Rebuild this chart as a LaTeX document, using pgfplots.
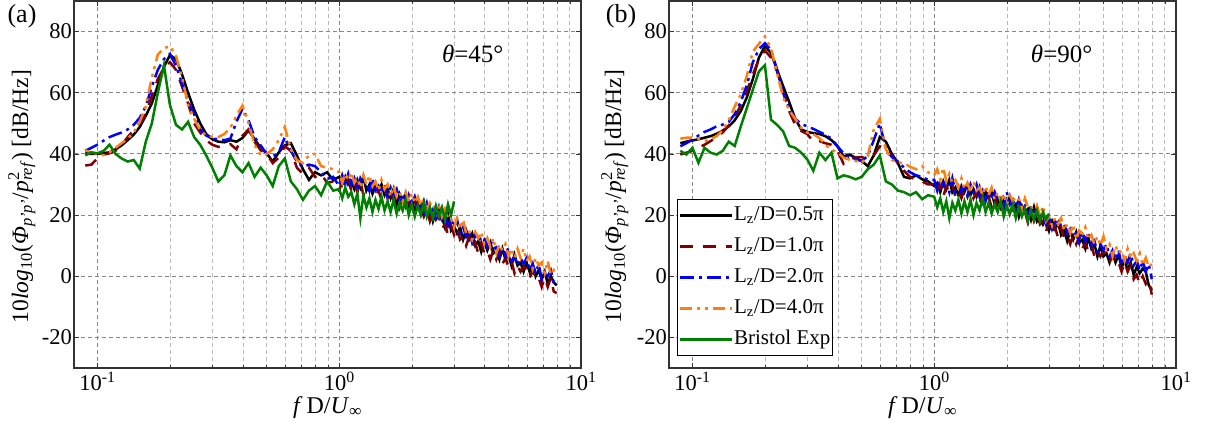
\documentclass[border=0pt]{standalone}
\usepackage{pgfplots}
\pgfplotsset{compat=1.18}
\usepackage{pgfplotstable}
\usepackage{fontspec}
\setmainfont{Liberation Serif}
\definecolor{cmaroon}{RGB}{128,0,0}
\definecolor{cblue}{RGB}{0,0,255}
\definecolor{corange}{RGB}{255,127,14}
\definecolor{cgreen}{RGB}{0,128,0}
\definecolor{cgridmaj}{RGB}{135,135,135}
\definecolor{cgridmin}{RGB}{185,185,185}
\newcommand{\fs}{\fontsize{21}{25}\selectfont}
\newcommand{\ft}{\fontsize{22.5}{26}\selectfont}
\newcommand{\fl}{\fontsize{23.5}{27}\selectfont}
\newcommand{\supsub}[2]{\rlap{\textsuperscript{#1}}\textsubscript{#2}}

\pgfplotstableread{
x k m b o g
0.0891 40.2 36.2 41.0 41.2 39.5
0.0944 40.0 36.5 42.0 40.5 40.5
0.1000 40.0 38.5 43.0 40.0 40.2
0.1059 40.3 39.8 44.3 39.6 41.0
0.1122 40.5 40.2 45.5 40.5 43.0
0.1189 41.5 41.0 46.3 42.0 40.0
0.1259 42.8 43.0 47.0 43.5 38.5
0.1334 44.5 45.5 48.0 45.0 37.5
0.1413 46.3 47.8 49.5 47.0 38.0
0.1496 48.8 50.0 51.8 50.5 35.2
0.1585 52.5 53.0 55.5 55.5 44.0
0.1679 56.5 59.0 62.0 65.0 50.0
0.1778 62.5 64.5 67.5 72.5 60.0
0.1884 68.5 68.2 71.0 74.5 69.0
0.1995 72.3 70.0 72.7 75.3 56.0
0.2113 71.0 67.5 68.8 72.0 49.5
0.2239 66.0 62.0 63.0 65.0 48.0
0.2371 60.0 56.5 57.0 56.0 50.5
0.2512 54.5 50.0 53.0 51.5 45.5
0.2661 50.0 47.0 48.0 47.7 43.0
0.2818 46.5 44.5 46.0 46.0 39.5
0.2985 44.8 43.0 45.0 45.6 35.5
0.3162 44.0 42.3 44.8 45.5 31.0
0.3350 43.8 42.7 44.5 46.5 33.0
0.3548 44.5 43.2 45.0 48.5 39.5
0.3758 44.0 41.5 50.5 52.5 36.0
0.3981 45.2 46.0 54.8 55.8 34.0
0.4217 47.7 48.0 51.0 50.0 37.0
0.4467 44.8 44.0 45.5 43.0 32.5
0.4732 42.0 41.2 42.8 39.5 35.5
0.5012 40.2 40.0 40.0 40.0 33.0
0.5309 37.5 37.0 39.2 41.5 29.5
0.5623 40.5 38.8 40.5 44.5 36.0
0.5957 42.8 42.5 45.5 48.8 38.5
0.6310 43.5 41.0 41.0 41.5 31.0
0.6683 39.5 35.5 37.5 38.0 28.5
0.7079 35.0 33.5 35.7 37.0 25.0
0.7499 31.5 35.5 36.5 39.6 28.0
0.7943 34.0 32.5 36.0 40.0 29.5
0.8414 33.0 33.5 34.0 36.0 26.5
0.8913 34.0 30.5 31.8 35.5 31.0
0.9441 31.5 31.0 32.5 35.0 28.0
1.0000 32.5 28.0 29.5 34.0 28.5
1.0292 30.0 31.0 33.0 30.5 25.5
1.0593 32.5 29.0 30.0 33.5 29.0
1.0902 30.0 31.5 33.5 31.5 26.0
1.1220 31.0 28.0 30.0 34.0 27.5
1.1548 28.5 30.5 32.0 30.5 23.5
1.1885 31.5 27.5 28.0 32.0 27.0
1.2232 29.0 31.0 32.0 29.0 19.0
1.2589 32.5 26.5 30.0 33.0 26.5
1.2957 28.0 29.5 31.0 30.0 22.5
1.3335 30.0 28.0 28.0 33.0 25.5
1.3725 27.0 30.0 32.0 29.5 21.0
1.4125 30.0 26.5 28.0 31.0 25.0
1.4538 28.0 28.0 29.5 28.0 22.0
1.4962 30.0 25.0 27.0 31.5 26.0
1.5399 26.5 28.5 30.0 28.5 21.5
1.5849 28.5 25.5 26.0 30.0 24.5
1.6312 25.5 28.5 29.0 26.0 21.0
1.6788 28.5 24.5 26.5 29.5 25.0
1.7278 23.5 26.0 28.5 26.0 20.5
1.7783 27.0 22.5 25.0 27.5 24.0
1.8302 25.0 26.0 26.5 24.5 21.5
1.8836 27.0 23.5 23.0 27.5 25.0
1.9387 23.0 24.5 26.5 24.5 20.0
1.9953 24.5 21.0 23.5 27.0 23.5
2.0535 21.5 25.0 26.0 24.0 19.5
2.1135 24.5 20.5 22.5 26.0 23.0
2.1752 21.5 22.0 23.5 23.0 20.0
2.2387 24.5 19.5 20.5 25.5 24.0
2.3041 20.5 22.0 24.0 21.5 19.5
2.3714 22.0 18.0 20.5 24.0 22.5
2.4406 18.0 21.0 22.0 22.0 19.0
2.5119 21.5 18.5 18.5 23.5 23.0
2.5852 19.0 20.0 22.5 23.0 19.5
2.6607 19.5 15.5 18.5 19.5 22.5
2.7384 16.0 17.0 19.5 22.0 18.5
2.8184 20.0 13.5 16.5 19.0 23.5
2.9007 15.0 16.5 19.0 19.0 20.0
2.9854 16.5 13.5 16.0 16.0 24.5
3.0726 14.0 16.0 18.5 19.0 nan
3.1623 16.0 12.0 14.0 15.5 nan
3.2546 12.0 13.0 16.0 18.5 nan
3.3497 15.0 10.0 13.0 14.0 nan
3.4475 12.0 13.0 15.0 15.0 nan
3.5481 14.0 9.5 11.0 12.0 nan
3.6517 10.0 11.0 13.5 14.5 nan
3.7584 11.5 7.5 11.5 12.5 nan
3.8681 8.0 11.0 13.0 14.5 nan
3.9811 11.5 7.5 12.5 10.5 nan
4.0973 8.5 8.5 9.5 12.5 nan
4.2170 11.0 5.5 12.0 9.5 nan
4.3401 7.5 8.5 9.0 12.5 nan
4.4668 8.5 5.5 9.5 7.5 nan
4.5973 5.5 8.0 6.5 10.5 nan
4.7315 9.0 4.0 9.5 8.5 nan
4.8697 5.5 6.0 6.5 10.5 nan
5.0119 7.0 3.0 9.5 6.5 nan
5.1582 3.5 5.0 5.0 9.0 nan
5.3088 7.0 1.0 6.5 6.0 nan
5.4639 3.5 3.5 3.5 9.0 nan
5.6234 4.5 1.5 6.0 6.0 nan
5.7876 1.5 3.0 4.0 9.0 nan
5.9566 4.5 2.5 6.0 5.0 nan
6.1306 1.5 -0.5 2.0 6.5 nan
6.3096 4.0 2.0 4.0 2.5 nan
6.4938 0.0 -1.0 1.0 6.0 nan
6.6834 2.0 -0.5 4.0 3.5 nan
6.8786 -1.0 -3.5 -1.0 4.5 nan
7.0795 1.5 -0.5 2.0 1.0 nan
7.2862 -2.5 -3.5 0.0 5.0 nan
7.4989 0.0 -0.5 2.0 0.5 nan
7.7179 -2.0 -5.0 -2.0 2.0 nan
7.9433 -3.0 -5.5 -1.5 0.5 nan
}\tabA

\pgfplotstableread{
x k m b o g
0.0891 43.5 39.8 42.5 45.0 41.0
0.0944 44.0 40.4 43.5 45.3 39.8
0.1000 44.4 41.0 44.7 45.3 42.0
0.1059 44.8 42.0 46.0 44.8 37.1
0.1122 45.3 43.0 47.2 44.2 42.0
0.1189 45.8 44.2 48.0 44.8 40.4
0.1259 46.6 45.5 49.0 45.8 39.8
0.1334 47.6 47.0 49.6 47.8 41.0
0.1413 49.0 49.3 50.5 51.0 44.0
0.1496 51.0 52.0 53.0 55.5 42.6
0.1585 54.0 56.0 57.0 59.5 49.0
0.1679 58.5 60.5 62.5 65.5 55.0
0.1778 64.5 66.0 70.0 73.5 61.0
0.1884 71.5 71.0 74.3 76.0 67.0
0.1995 75.3 73.8 76.2 78.4 69.0
0.2113 73.0 71.5 74.0 74.5 51.2
0.2239 67.5 67.0 67.5 66.5 49.5
0.2371 62.2 60.5 60.0 58.5 47.4
0.2512 57.0 54.0 55.0 54.3 42.6
0.2661 51.5 49.5 51.5 51.5 42.0
0.2818 48.0 47.5 49.8 48.5 40.4
0.2985 47.2 46.5 49.0 47.0 38.2
0.3162 46.8 44.0 48.2 46.5 34.5
0.3350 46.5 44.2 47.2 45.2 40.4
0.3548 45.8 43.5 46.3 43.0 38.0
0.3758 44.5 43.0 45.0 41.3 40.4
0.3981 42.5 41.0 42.5 40.6 32.0
0.4217 39.2 36.8 40.2 38.8 33.0
0.4467 39.8 38.5 39.0 38.1 32.5
0.4732 38.7 38.8 38.2 37.7 31.7
0.5012 37.7 39.0 37.7 37.1 32.5
0.5309 36.0 38.2 39.3 39.3 35.0
0.5623 39.5 39.5 44.5 48.0 36.5
0.5957 45.5 42.5 50.0 51.5 39.5
0.6310 44.0 41.8 41.5 41.5 31.0
0.6683 40.0 39.5 39.0 38.0 30.0
0.7079 37.0 37.0 37.5 37.2 28.0
0.7499 32.5 34.5 35.5 37.0 27.5
0.7943 32.0 32.5 34.0 35.8 26.5
0.8414 33.0 31.5 33.0 35.0 27.5
0.8913 31.7 31.0 32.5 36.0 25.2
0.9441 31.0 30.0 31.5 34.0 26.5
1.0000 29.5 30.0 31.5 33.0 26.0
1.0292 30.5 27.5 28.0 35.0 22.5
1.0593 27.5 30.5 31.5 31.5 25.5
1.0902 31.0 26.0 29.5 35.5 21.0
1.1220 28.5 29.5 31.0 31.0 24.5
1.1548 31.5 27.5 27.5 33.5 19.0
1.1885 27.5 30.0 32.0 30.5 24.0
1.2232 29.0 26.0 27.5 31.5 21.5
1.2589 26.5 28.0 29.5 29.0 25.0
1.2957 29.5 25.5 27.5 32.0 20.5
1.3335 27.5 28.5 30.0 28.5 24.5
1.3725 30.0 26.0 26.5 30.5 21.0
1.4125 26.5 29.5 30.0 27.5 25.0
1.4538 28.5 25.5 27.5 31.0 20.0
1.4962 26.0 27.5 30.0 28.0 24.0
1.5399 29.0 23.5 26.0 29.0 21.5
1.5849 24.5 27.5 28.0 26.5 25.5
1.6312 27.5 25.0 24.5 29.5 21.0
1.6788 25.5 26.0 28.0 26.5 24.0
1.7278 27.5 22.5 25.0 29.0 20.5
1.7783 23.5 26.5 27.5 25.0 23.5
1.8302 25.5 22.5 24.5 27.5 21.0
1.8836 22.5 24.0 25.5 24.5 24.5
1.9387 25.5 21.5 22.5 27.0 19.5
1.9953 23.0 24.5 27.5 23.5 23.0
2.0535 26.0 20.5 23.5 26.5 20.5
2.1135 22.0 23.5 25.0 24.5 23.5
2.1752 23.5 21.0 21.5 26.0 19.0
2.2387 19.5 23.0 25.0 25.5 22.5
2.3041 23.0 19.0 21.5 22.5 19.5
2.3714 21.0 21.0 23.0 25.5 22.0
2.4406 22.0 17.5 20.0 22.5 18.0
2.5119 18.5 21.0 23.0 23.0 21.5
2.5852 22.5 18.0 20.0 20.0 18.5
2.6607 18.0 20.5 22.5 23.0 21.5
2.7384 19.5 17.0 18.5 20.0 18.0
2.8184 17.0 18.0 20.5 23.0 21.0
2.9007 19.0 14.5 17.0 18.0 18.5
2.9854 15.0 18.0 19.5 19.5 20.5
3.0726 18.0 14.5 15.5 16.5 nan
3.1623 15.5 16.0 18.0 19.0 nan
3.2546 17.5 12.5 16.0 17.0 nan
3.3497 13.5 16.0 17.5 19.0 nan
3.4475 15.0 12.5 17.0 15.0 nan
3.5481 11.5 13.5 14.0 17.0 nan
3.6517 15.0 10.5 16.5 14.0 nan
3.7584 12.0 13.5 13.5 17.0 nan
3.8681 14.5 10.5 14.0 12.0 nan
3.9811 11.0 13.0 11.0 15.0 nan
4.0973 12.0 9.0 14.5 14.0 nan
4.2170 9.0 11.0 11.5 16.0 nan
4.3401 12.5 8.0 14.5 12.0 nan
4.4668 9.0 10.5 10.0 13.5 nan
4.5973 10.5 6.5 11.5 10.5 nan
4.7315 6.5 8.5 8.0 13.0 nan
4.8697 10.0 6.5 10.5 10.0 nan
5.0119 6.5 8.0 8.5 13.0 nan
5.1582 7.5 7.5 10.5 9.0 nan
5.3088 4.5 4.5 6.5 10.5 nan
5.4639 7.5 7.0 8.5 6.5 nan
5.6234 4.5 4.0 5.5 10.0 nan
5.7876 7.0 4.5 8.5 7.5 nan
5.9566 3.0 1.5 3.5 8.5 nan
6.1306 5.0 4.5 6.5 5.0 nan
6.3096 2.0 1.5 4.5 9.0 nan
6.4938 4.5 3.5 7.5 6.0 nan
6.6834 0.5 -1.0 3.5 7.5 nan
6.8786 3.0 0.5 5.0 5.0 nan
7.0795 1.0 -2.5 2.0 7.5 nan
7.2862 2.5 0.0 5.0 3.5 nan
7.4989 1.5 -2.5 1.5 6.0 nan
7.7179 -3.0 -1.0 4.0 3.0 nan
7.9433 -4.5 -6.0 -1.0 4.0 nan
}\tabB

\begin{document}
\begin{tikzpicture}
\path[use as bounding box] (0,0) rectangle (1206pt,439pt);
\begin{axis}[
    at={(74pt,71pt)}, anchor=south west,
    scale only axis, width=507pt, height=367pt,
    xmode=log, xmin=0.08, xmax=10, ymin=-30, ymax=90,
    xtick={0.1,1,10},
    xticklabels={10\textsuperscript{-1},10\textsuperscript{0},10\textsuperscript{1}},
    minor xtick={0.2,0.3,0.4,0.5,0.6,0.7,0.8,0.9,2,3,4,5,6,7,8,9},
    ytick={-20,0,20,40,60,80},
    yticklabels={-20,0,20,40,60,80},
    grid=both,
    major grid style={color=cgridmaj, line width=0.9pt, dash pattern=on 4pt off 3pt},
    minor grid style={color=cgridmin, line width=0.9pt, dash pattern=on 4pt off 3pt},
    axis line style={black!80, line width=1.1pt},
    tick style={black!80, line width=0.8pt},
    major tick length=5pt, minor tick length=3pt,
    tick align=inside,
    tick label style={font=\ft},
    yticklabel style={inner xsep=2pt},
    xticklabel style={inner ysep=4pt},
    xlabel={\textit{f}\,D/\textit{U}\textsubscript{\textit{∞}}},
    ylabel={10\textit{log}\textsubscript{10}(\textit{Φ}\textsubscript{\textit{p'p'}}/\textit{p}\supsub{2}{\textit{ref}}) [dB/Hz]},
    xlabel style={font=\fontsize{24}{28}\selectfont, at={(axis description cs:0.5,0)}, anchor=base, yshift=-45pt},
    ylabel style={font=\fl, at={(axis description cs:-0.103,0.467)}, anchor=center},
    unbounded coords=discard,
  ]
\addplot[black, solid, line width=2.5pt] table[x=x,y=k]{\tabA};
\addplot[cmaroon, line width=2.5pt, dash pattern=on 13pt off 10pt] table[x=x,y=m]{\tabA};
\addplot[cblue, line width=2.5pt, dash pattern=on 14pt off 5pt on 3pt off 5pt] table[x=x,y=b]{\tabA};
\addplot[corange, line width=2.5pt, dash pattern=on 12pt off 5pt on 3pt off 5pt on 3pt off 5pt] table[x=x,y=o]{\tabA};
\addplot[cgreen, solid, line width=2.5pt] table[x=x,y=g]{\tabA};
\node[anchor=west, font=\fontsize{25}{25}\selectfont] at (axis description cs:0.719,0.855) {\textit{θ}=45°};
\end{axis}
\begin{axis}[
    at={(669pt,71pt)}, anchor=south west,
    scale only axis, width=507pt, height=367pt,
    xmode=log, xmin=0.08, xmax=10, ymin=-30, ymax=90,
    xtick={0.1,1,10},
    xticklabels={10\textsuperscript{-1},10\textsuperscript{0},10\textsuperscript{1}},
    minor xtick={0.2,0.3,0.4,0.5,0.6,0.7,0.8,0.9,2,3,4,5,6,7,8,9},
    ytick={-20,0,20,40,60,80},
    yticklabels={-20,0,20,40,60,80},
    grid=both,
    major grid style={color=cgridmaj, line width=0.9pt, dash pattern=on 4pt off 3pt},
    minor grid style={color=cgridmin, line width=0.9pt, dash pattern=on 4pt off 3pt},
    axis line style={black!80, line width=1.1pt},
    tick style={black!80, line width=0.8pt},
    major tick length=5pt, minor tick length=3pt,
    tick align=inside,
    tick label style={font=\ft},
    yticklabel style={inner xsep=2pt},
    xticklabel style={inner ysep=4pt},
    xlabel={\textit{f}\,D/\textit{U}\textsubscript{\textit{∞}}},
    ylabel={10\textit{log}\textsubscript{10}(\textit{Φ}\textsubscript{\textit{p'p'}}/\textit{p}\supsub{2}{\textit{ref}}) [dB/Hz]},
    xlabel style={font=\fontsize{24}{28}\selectfont, at={(axis description cs:0.5,0)}, anchor=base, yshift=-45pt},
    ylabel style={font=\fl, at={(axis description cs:-0.107,0.467)}, anchor=center},
    unbounded coords=discard,
    legend cell align=left,
    legend image code/.code={\draw[#1] (0pt,0pt) -- (52pt,0pt);},
    legend style={at={(0.016,0.033)}, anchor=south west, draw=black, line width=1pt, fill=white,
      font=\fs, inner xsep=1pt, inner ysep=5pt, row sep=9pt,
      nodes={inner sep=1pt, text height=15pt, text depth=5pt}},
  ]
\addplot[black, solid, line width=2.5pt] table[x=x,y=k]{\tabB};
\addlegendentry{L\textsubscript{z}/D=0.5π}
\addplot[cmaroon, line width=2.5pt, dash pattern=on 13pt off 10pt] table[x=x,y=m]{\tabB};
\addlegendentry{L\textsubscript{z}/D=1.0π}
\addplot[cblue, line width=2.5pt, dash pattern=on 14pt off 5pt on 3pt off 5pt] table[x=x,y=b]{\tabB};
\addlegendentry{L\textsubscript{z}/D=2.0π}
\addplot[corange, line width=2.5pt, dash pattern=on 12pt off 5pt on 3pt off 5pt on 3pt off 5pt] table[x=x,y=o]{\tabB};
\addlegendentry{L\textsubscript{z}/D=4.0π}
\addplot[cgreen, solid, line width=2.5pt] table[x=x,y=g]{\tabB};
\addlegendentry{Bristol Exp}
\node[anchor=west, font=\fontsize{25}{25}\selectfont] at (axis description cs:0.707,0.855) {\textit{θ}=90°};
\end{axis}
\node[font=\fontsize{26}{26}\selectfont] at (22pt,423pt) {(a)};
\node[font=\fontsize{26}{26}\selectfont] at (621pt,423pt) {(b)};
\end{tikzpicture}
\end{document}
